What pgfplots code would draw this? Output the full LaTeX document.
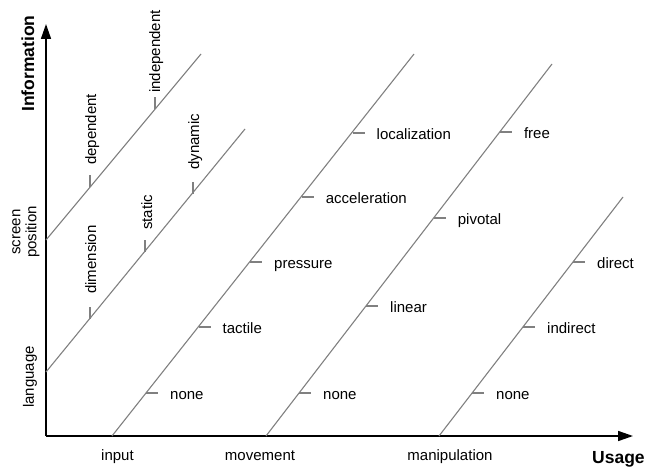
\documentclass[border=0pt]{standalone}
\usepackage{pgfplots}
\pgfplotsset{compat=1.18}
\usepackage{pgfplotstable}
\usepackage{fontspec}
\setmainfont{Liberation Sans}
\usetikzlibrary{arrows.meta}
\definecolor{linegray}{RGB}{128,128,128}
\newcommand\lab{\fontsize{15bp}{16bp}\selectfont}
\newcommand\ttl{\fontsize{17.5bp}{19bp}\selectfont\bfseries}

% diagonal lines (pixel-like coordinates, y downward)
\pgfplotstableread{
x y
112 436
414 54
nan nan
266 436
552 64
nan nan
439 436
623 197
nan nan
46 372
245 129
nan nan
46 240
201 54
}\diaglines

% horizontal ticks on usage lines
\pgfplotstableread{
x y
146 393
158 393
nan nan
198.5 327
210.5 327
nan nan
250 262
262 262
nan nan
301.7 197
313.7 197
nan nan
352.5 133
364.5 133
nan nan
299 393
311 393
nan nan
366 306
378 306
nan nan
433.7 218
445.7 218
nan nan
499.8 132
511.8 132
nan nan
472 393
484 393
nan nan
523 327
535 327
nan nan
573 262
585 262
}\hticks

% vertical ticks on information lines
\pgfplotstableread{
x y
90 319
90 307
nan nan
145 252
145 240
nan nan
193 194
193 182
nan nan
90 187
90 175
nan nan
155 109
155 97
}\vticks

\begin{document}
\begin{tikzpicture}
\begin{axis}[
  scale only axis, width=646bp, height=468bp,
  xmin=0, xmax=646, ymin=0, ymax=468, y dir=reverse,
  hide axis, clip=false, unbounded coords=jump,
]
% main axes
\addplot[black, line width=1.6bp, -{Triangle[length=15bp,width=10bp]}] coordinates {(46,436) (633,436)};
\addplot[black, line width=1.6bp, -{Triangle[length=15bp,width=10bp]}] coordinates {(46,436) (46,24)};
% diagonal lines and ticks
\addplot[linegray, line width=1.1bp] table {\diaglines};
\addplot[linegray, line width=1.1bp] table {\hticks};
\addplot[linegray, line width=1.1bp] table {\vticks};

% usage-line labels
\begin{scope}[every node/.style={font=\lab, anchor=base west, inner sep=0pt}]
\node at (170,399) {none};
\node at (222.5,333) {tactile};
\node at (274,268) {pressure};
\node at (325.7,203) {acceleration};
\node at (376.5,139) {localization};
\node at (323,399) {none};
\node at (390,312) {linear};
\node at (457.7,224) {pivotal};
\node at (523.8,138) {free};
\node at (496,399) {none};
\node at (547,333) {indirect};
\node at (597,268) {direct};
\end{scope}

% information-line labels (rotated)
\begin{scope}[every node/.style={font=\lab, anchor=base west, inner sep=0pt, rotate=90}]
\node at (96,294) {dimension};
\node at (152,230) {static};
\node at (199,170) {dynamic};
\node at (96,165) {dependent};
\node at (160,93) {independent};
\end{scope}

% category labels
\node[font=\lab, anchor=base, inner sep=0pt] at (117.5,460) {input};
\node[font=\lab, anchor=base, inner sep=0pt] at (260,460) {movement};
\node[font=\lab, anchor=base, inner sep=0pt] at (450,460) {manipulation};
\node[font=\lab, rotate=90, inner sep=0pt] at (30,377) {language};
\node[font=\lab, rotate=90, inner sep=0pt, align=center] at (26,232) {screen\\position};

% axis titles
\node[font=\ttl, anchor=base west, inner sep=0pt] at (592,463) {Usage};
\node[font=\ttl, anchor=base west, inner sep=0pt, rotate=90] at (34,112) {Information};
\end{axis}
\pgfresetboundingbox
\path (current axis.south west) rectangle (current axis.north east);
\end{tikzpicture}
\end{document}
